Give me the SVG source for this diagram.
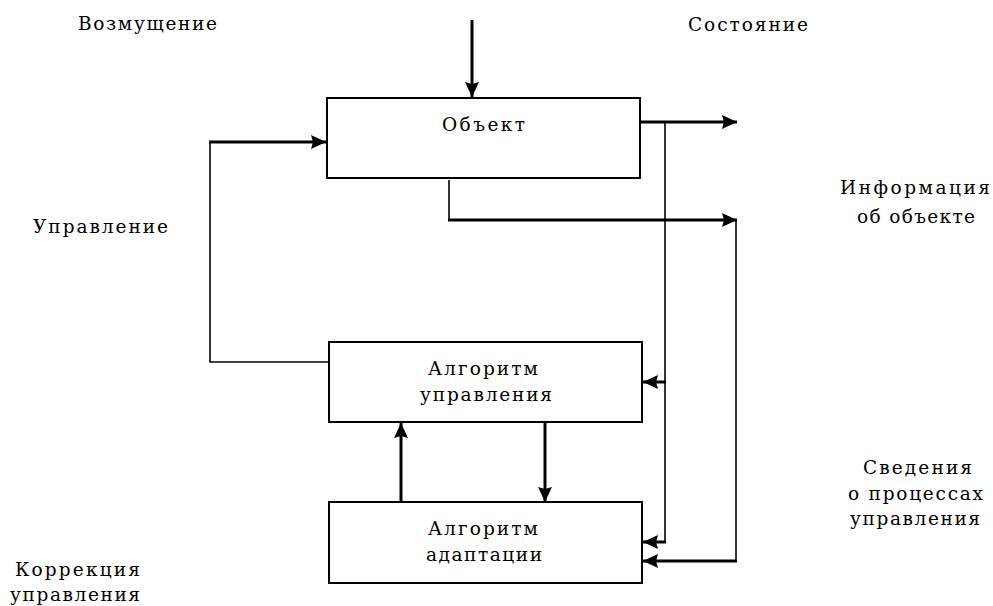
<svg xmlns="http://www.w3.org/2000/svg" width="993" height="606" viewBox="0 0 993 606">
<defs>
<style>
text{font-family:"DejaVu Serif","Liberation Serif",serif;font-size:18.5px;fill:#000}
.box{fill:#fff;stroke:#000;stroke-width:2}
.thick{stroke:#000;stroke-width:3;fill:none}
.thin{stroke:#000;stroke-width:1.6;fill:none}
</style>
<marker id="ah" viewBox="0 0 15 14" refX="15" refY="7" markerWidth="15" markerHeight="14" markerUnits="userSpaceOnUse" orient="auto">
<path d="M0,0 L15,7 L0,14 L2,7 Z" fill="#000"/>
</marker>
</defs>
<rect width="993" height="606" fill="#fff"/>
<g id="connectors">
<line class="thick" x1="472" y1="20" x2="472" y2="97" marker-end="url(#ah)"/>
<polyline class="thin" points="329,362 210,362 210,142"/>
<line class="thick" x1="209" y1="142" x2="326" y2="142" marker-end="url(#ah)"/>
<line class="thick" x1="640" y1="122" x2="737" y2="122" marker-end="url(#ah)"/>
<line class="thin" x1="449" y1="180" x2="449" y2="220"/>
<line class="thick" x1="448" y1="220" x2="737" y2="220" marker-end="url(#ah)"/>
<line class="thin" x1="665" y1="122" x2="665" y2="542"/>
<line class="thin" x1="736" y1="220" x2="736" y2="561"/>
<line class="thick" x1="666" y1="382" x2="643" y2="382" marker-end="url(#ah)"/>
<line class="thick" x1="666" y1="542" x2="643" y2="542" marker-end="url(#ah)"/>
<line class="thick" x1="737" y1="561" x2="643" y2="561" marker-end="url(#ah)"/>
<line class="thick" x1="401" y1="502" x2="401" y2="423" stroke-width="4" marker-end="url(#ah)"/>
<line class="thick" x1="545" y1="422" x2="545" y2="502" marker-end="url(#ah)"/>
</g>
<g id="object">
<rect class="box" x="327" y="98" width="313" height="80"/>
<text x="442" y="131" textLength="83" lengthAdjust="spacing">Объект</text>
</g>
<g id="control-algorithm">
<rect class="box" x="329" y="342" width="313" height="80"/>
<text x="428" y="375" textLength="110" lengthAdjust="spacing">Алгоритм</text>
<text x="420" y="401" textLength="132" lengthAdjust="spacing">управления</text>
</g>
<g id="adaptation-algorithm">
<rect class="box" x="329" y="502" width="313" height="81"/>
<text x="428" y="535" textLength="110" lengthAdjust="spacing">Алгоритм</text>
<text x="426" y="561" textLength="116" lengthAdjust="spacing">адаптации</text>
</g>
<g id="labels">
<text x="78" y="30" textLength="139" lengthAdjust="spacing">Возмущение</text>
<text x="688" y="31" textLength="120" lengthAdjust="spacing">Состояние</text>
<text x="33" y="233" textLength="135" lengthAdjust="spacing">Управление</text>
<text x="840" y="194" textLength="150" lengthAdjust="spacing">Информация</text>
<text x="857" y="223" textLength="118" lengthAdjust="spacing">об объекте</text>
<text x="863" y="474" textLength="109" lengthAdjust="spacing">Сведения</text>
<text x="848" y="500" textLength="135" lengthAdjust="spacing">о процессах</text>
<text x="850" y="525" textLength="130" lengthAdjust="spacing">управления</text>
<text x="15" y="576" textLength="125" lengthAdjust="spacing">Коррекция</text>
<text x="10" y="601" textLength="130" lengthAdjust="spacing">управления</text>
</g>
</svg>
